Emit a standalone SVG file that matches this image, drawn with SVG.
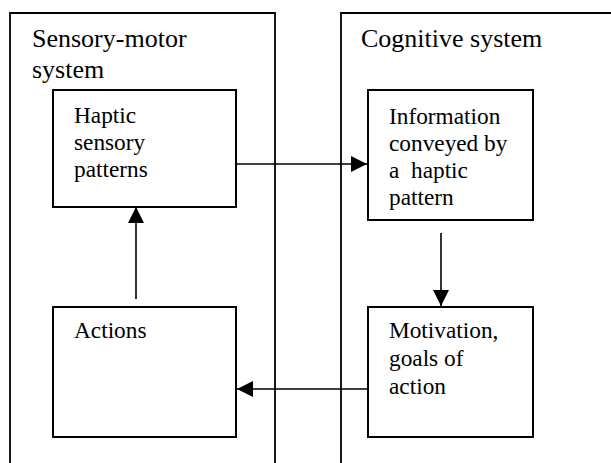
<svg xmlns="http://www.w3.org/2000/svg" width="611" height="463" viewBox="0 0 611 463">
<style>
.sys{fill:none;stroke:#000;stroke-width:1.8}
.box{fill:#fff;stroke:#000;stroke-width:2}
.t{font-family:"Liberation Serif","Times New Roman",serif;font-size:23.3px;fill:#000}
.title{font-family:"Liberation Serif","Times New Roman",serif;font-size:26px;fill:#000}
.c{fill:none;stroke:#000;stroke-width:1.6}
</style>
<defs>
<marker id="ah" markerUnits="userSpaceOnUse" markerWidth="16" markerHeight="16" refX="16" refY="8" orient="auto">
<path d="M0,0 L16,8 L0,16 z" fill="#000"/>
</marker>
</defs>
<g id="sensory-motor-system">
<path class="sys" d="M10,470 V13 H275 V470"/>
<text class="title" x="32" y="47">Sensory-motor</text>
<text class="title" x="32" y="78">system</text>
</g>
<g id="cognitive-system">
<path class="sys" d="M341,470 V13 H620"/>
<text class="title" x="361" y="47">Cognitive system</text>
</g>
<g id="haptic">
<rect class="box" x="53" y="90" width="183" height="117"/>
<text class="t" x="74" y="123">Haptic</text>
<text class="t" x="74" y="150">sensory</text>
<text class="t" x="74" y="177">patterns</text>
</g>
<g id="information">
<rect class="box" x="368" y="90" width="165" height="130"/>
<text class="t" x="389" y="124">Information</text>
<text class="t" x="389" y="151">conveyed by</text>
<text class="t" x="389" y="178" xml:space="preserve">a  haptic</text>
<text class="t" x="389" y="205">pattern</text>
</g>
<g id="actions">
<rect class="box" x="53" y="307" width="183" height="130"/>
<text class="t" x="74" y="338">Actions</text>
</g>
<g id="motivation">
<rect class="box" x="368" y="307" width="165" height="130"/>
<text class="t" x="389" y="338">Motivation,</text>
<text class="t" x="389" y="366">goals of</text>
<text class="t" x="389" y="394">action</text>
</g>
<g id="connectors">
<line class="c" x1="236" y1="164" x2="367" y2="164" marker-end="url(#ah)"/>
<line class="c" x1="441" y1="233" x2="441" y2="306" marker-end="url(#ah)"/>
<line class="c" x1="368" y1="389" x2="237" y2="389" marker-end="url(#ah)"/>
<line class="c" x1="136" y1="299" x2="136" y2="207" marker-end="url(#ah)"/>
</g>
</svg>
